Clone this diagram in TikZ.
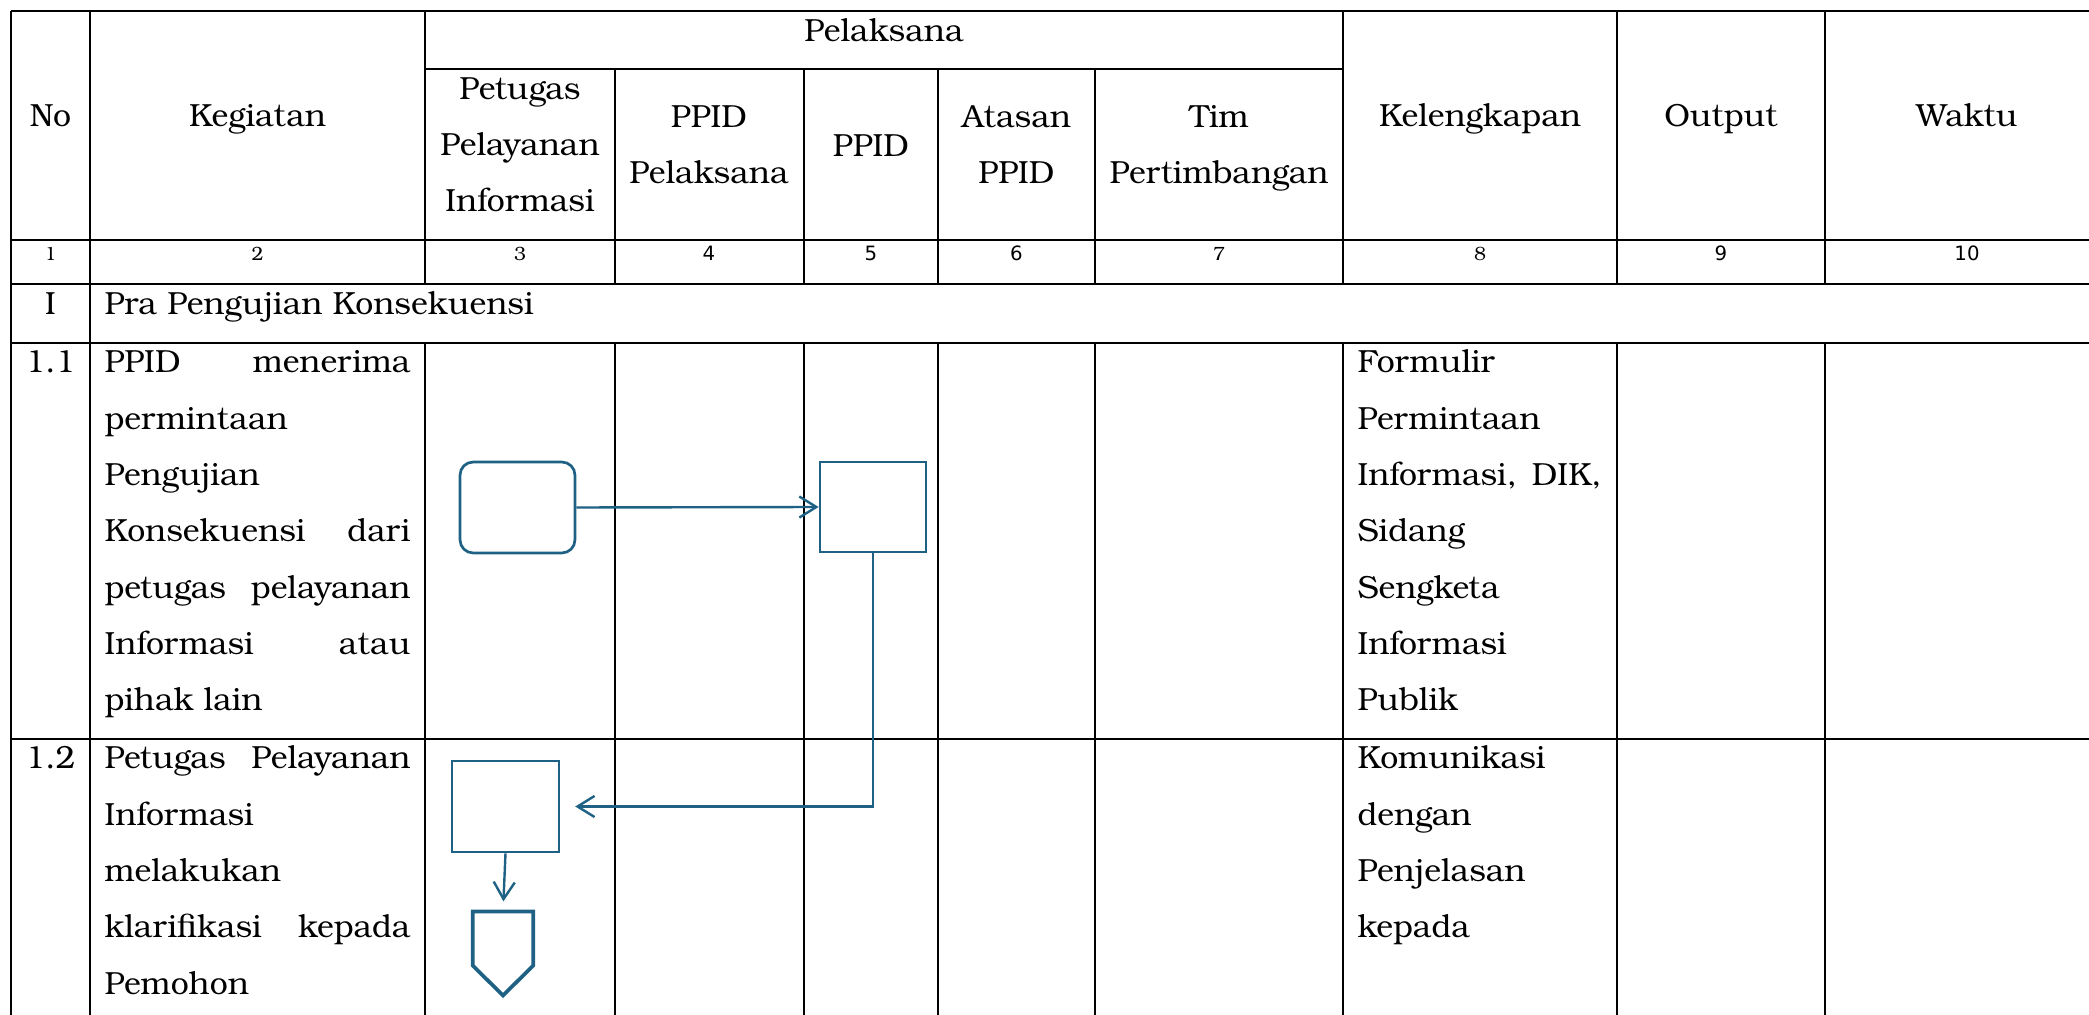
\documentclass[tikz,border=0pt]{standalone}
\usepackage{fontspec}
\setmainfont{TeX Gyre Bonum}
\newfontfamily\numfont{DejaVu Sans}
\usepackage{xcolor}
\usepackage{tikz}
\usetikzlibrary{arrows.meta}

\definecolor{flowblue}{RGB}{31,97,132}
\newcommand{\fillrow}[1]{\makebox[114.75pt][s]{#1}}
\newcommand{\fillkel}[1]{\makebox[91.5pt][s]{#1}}

\begin{document}
\begin{tikzpicture}[x=0.375pt,y=-0.375pt,
        grid/.style={line width=0.95pt},
        txt/.style={inner sep=0pt,anchor=base,font=\fontsize{12}{14}\selectfont},
        ltxt/.style={txt,anchor=base west},
        num/.style={inner sep=0pt,anchor=base,font=\fontsize{7.2}{8}\selectfont},
        snum/.style={num,font=\numfont\fontsize{7.4}{8}\selectfont},
        box/.style={draw=flowblue,line width=1pt,inner sep=0pt},
        link/.style={draw=flowblue,line width=0.9pt,-{Straight Barb[length=6.4pt,width=7.9pt]}}]
        \useasboundingbox (0,0) rectangle (2089,1015);

        % garis tabel
        \draw[grid] (11,11) -- (2089,11);
        \draw[grid] (425,69) -- (1343,69);
        \draw[grid] (11,240) -- (2089,240);
        \draw[grid] (11,284) -- (2089,284);
        \draw[grid] (11,343) -- (2089,343);
        \draw[grid] (11,739) -- (2089,739);
        \draw[grid] (11,11) -- (11,1015);
        \draw[grid] (90,11) -- (90,1015);
        \draw[grid] (425,11) -- (425,284);
        \foreach \x in {615,804,938,1095} \draw[grid] (\x,69) -- (\x,284);
        \foreach \x in {1343,1617,1825} \draw[grid] (\x,11) -- (\x,284);
        \foreach \x in {425,615,804,938,1095,1343,1617,1825} \draw[grid] (\x,343) -- (\x,1015);

        % judul kolom
        \node[txt] (hNo) at (50.5,127) {No};
        \node[txt] (hKeg) at (257.5,127) {Kegiatan};
        \node[txt] (hPel) at (884,42) {Pelaksana};
        \node[txt] (hPet1) at (520,100) {Petugas};
        \node[txt] (hPet2) at (520,156) {Pelayanan};
        \node[txt] (hPet3) at (520,212) {Informasi};
        \node[txt] (hPpp1) at (709,128) {PPID};
        \node[txt] (hPpp2) at (709,184) {Pelaksana};
        \node[txt] (hPpid) at (871,157) {PPID};
        \node[txt] (hAts1) at (1016.5,128) {Atasan};
        \node[txt] (hAts2) at (1016.5,184) {PPID};
        \node[txt] (hTim1) at (1219,128) {Tim};
        \node[txt] (hTim2) at (1219,184) {Pertimbangan};
        \node[txt] (hKel) at (1480,127) {Kelengkapan};
        \node[txt] (hOut) at (1721,127) {Output};
        \node[txt] (hWkt) at (1967,127) {Waktu};

        % nomor kolom
        \foreach \x/\n in {50.5/1,257.5/2,520/3,1219/7,1480/8}
            \node[num] (num\n) at (\x,261) {\n};
        \foreach \x/\n in {709/4,871/5,1016.5/6,1721/9,1967/10}
            \node[snum] (num\n) at (\x,261) {\n};

        % baris I
        \node[txt] (rI) at (50.5,315) {I};
        \node[ltxt] (rIk) at (104,315) {Pra Pengujian Konsekuensi};

        % baris 1.1
        \node[txt] (r11) at (50.5,373) {1.1};
        \foreach \t [count=\k from 0] in {{\fillrow{PPID menerima}},permintaan,Pengujian,
            {\fillrow{Konsekuensi dari}},{\fillrow{petugas pelayanan}},{\fillrow{Informasi atau}},pihak lain}
            \node[ltxt] (k11-\k) at (104,{373+56.3*\k}) {\t};
        \foreach \t [count=\k from 0] in {Formulir,Permintaan,{\fillkel{Informasi, DIK,}},
            Sidang,Sengketa,Informasi,Publik}
            \node[ltxt] (l11-\k) at (1357,{373+56.3*\k}) {\t};

        % baris 1.2
        \node[txt] (r12) at (50.5,769) {1.2};
        \foreach \t [count=\k from 0] in {{\fillrow{Petugas Pelayanan}},Informasi,melakukan,
            {\fillrow{klarifikasi kepada}},Pemohon}
            \node[ltxt] (k12-\k) at (104,{769+56.3*\k}) {\t};
        \foreach \t [count=\k from 0] in {Komunikasi,dengan,Penjelasan,kepada}
            \node[ltxt] (l12-\k) at (1357,{769+56.3*\k}) {\t};

        % bagan alir
        \node[box,rounded corners=4.9pt,minimum width=43.1pt,minimum height=34.1pt] (mulai) at (517.5,507.5) {};
        \node[box,minimum width=39.75pt,minimum height=33.75pt] (terima) at (873,507) {};
        \node[box,minimum width=40.1pt,minimum height=34.1pt] (klarif) at (505.5,806.5) {};
        \node[inner sep=0pt,minimum width=22.3pt,minimum height=31.1pt] (offpg) at (503,953.5) {};
        \draw[flowblue,line width=1.4pt,line join=miter] (offpg.north west) -- (offpg.north east)
            -- ([yshift=-20.25pt]offpg.north east) -- (offpg.south)
            -- ([yshift=-20.25pt]offpg.north west) -- cycle;

        \draw[link] (mulai.east) -- (terima.west);
        \draw[link,shorten >=5.6pt] (terima.south) |- (klarif.east);
        \draw[link,shorten >=3.8pt] (klarif.south) -- (offpg.north);
    \end{tikzpicture}
\end{document}
